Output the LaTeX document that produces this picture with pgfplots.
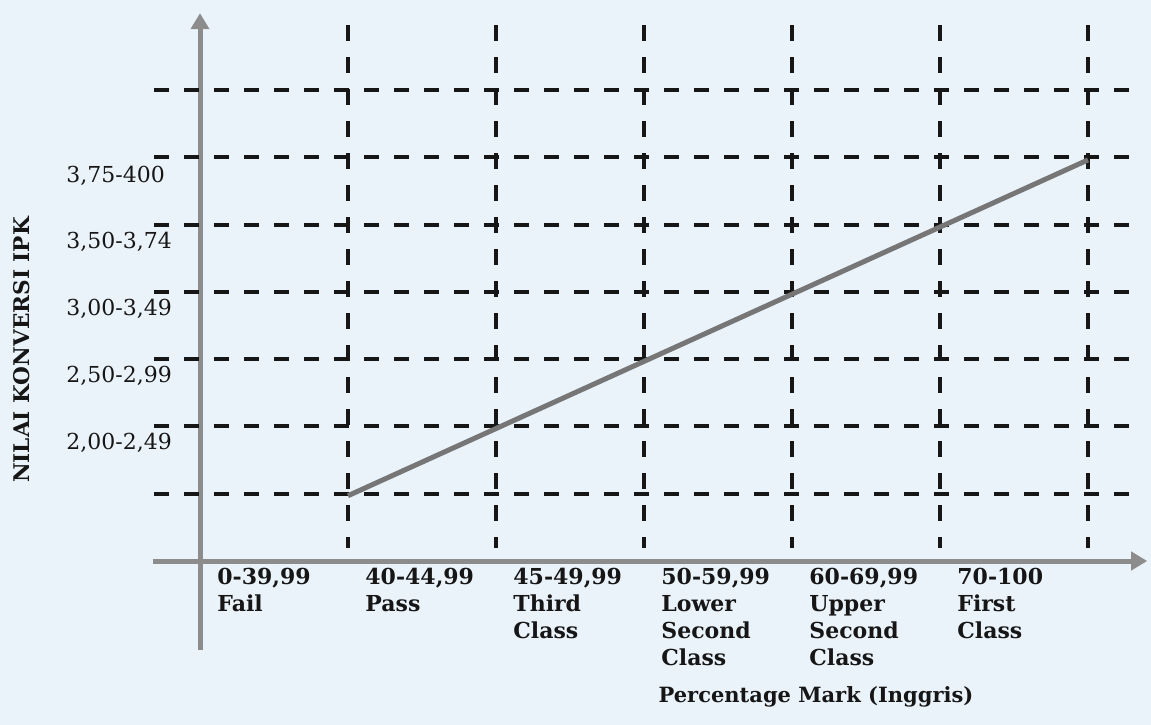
\documentclass[border=0pt]{standalone}
\usepackage{pgfplots}
\pgfplotsset{compat=1.18}
\usepackage{fontspec}
\setmainfont{DejaVu Serif}
\usetikzlibrary{arrows.meta,backgrounds}
\definecolor{bg}{RGB}{235,243,250}
\definecolor{axgray}{RGB}{140,140,140}
\definecolor{lngray}{RGB}{118,118,118}
\definecolor{ink}{RGB}{22,22,22}
\begin{document}
\begin{tikzpicture}[show background rectangle, inner frame sep=0pt,
  background rectangle/.style={fill=bg, draw=none}]
\begin{axis}[
  x=74pt, y=33.65pt,
  xmin=-0.32, xmax=6.4, ymin=-1.32, ymax=8.14,
  axis lines=middle,
  axis line style={draw=axgray, line width=2.5pt, -{Triangle[width=9pt,length=8pt]}},
  clip=false,
  hide obscured x ticks=false,
  hide obscured y ticks=false,
  major tick length=0pt,
  tick style={draw=none},
  xtick={0,1,2,3,4,5},
  xticklabels={{0-39,99\\Fail},{40-44,99\\Pass},{45-49,99\\Third\\Class},{50-59,99\\Lower\\Second\\Class},{60-69,99\\Upper\\Second\\Class},{70-100\\First\\Class}},
  xticklabel style={font=\bfseries\fontsize{11}{13.6}\selectfont, text=ink, align=left, anchor=north west, xshift=8.5pt, inner xsep=0pt},
  ytick={1.76,2.75,3.74,4.74,5.72},
  yticklabels={{2,00-2,49},{2,50-2,99},{3,00-3,49},{3,50-3,74},{3,75-400}},
  yticklabel style={font=\fontsize{11}{13}\selectfont, text=ink, anchor=west, xshift=-67pt, inner xsep=0pt},
]
\path (axis cs:-1.3514,-2.4368) rectangle (axis cs:6.4257,8.3358);
\pgfplotsinvokeforeach{1,...,6}{
  \draw[ink, line width=2pt, dash pattern=on 8pt off 8pt] (axis cs:#1,7.96) -- (axis cs:#1,0.2);
}
\pgfplotsinvokeforeach{1,...,7}{
  \draw[ink, line width=2pt, dash pattern=on 7.5pt off 7.5pt] (axis cs:-0.31,#1) -- (axis cs:6.28,#1);
}
\addplot[color=lngray, line width=2.5pt] coordinates {(1,0.97) (6,5.96)};
\node[rotate=90, font=\bfseries\fontsize{10.8}{12}\selectfont, text=ink] at (axis cs:-1.203,3.135) {NILAI KONVERSI IPK};
\node[font=\bfseries\fontsize{10.5}{12}\selectfont, text=ink] at (axis cs:4.162,-2.02) {Percentage Mark (Inggris)};
\end{axis}
\end{tikzpicture}
\end{document}
